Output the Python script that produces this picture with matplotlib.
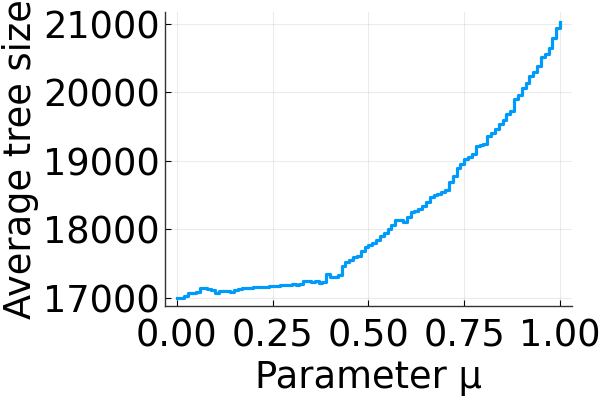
import numpy as np
import matplotlib.pyplot as plt

# parameter grid (mu from 0 to 1, step 0.01)
mu = np.linspace(0, 1, 101)

# average tree size, one value per mu step
tree_size = [
    16995, 16995, 17030, 17075, 17075, 17080, 17150, 17145, 17125, 17120,
    17070, 17105, 17105, 17100, 17090, 17120, 17135, 17140, 17145, 17150,
    17155, 17160, 17165, 17165, 17170, 17175, 17180, 17185, 17190, 17195,
    17200, 17195, 17210, 17245, 17240, 17235, 17245, 17220, 17230, 17350,
    17300, 17310, 17330, 17460, 17525, 17560, 17590, 17610, 17690, 17745,
    17770, 17800, 17840, 17910, 17940, 18010, 18060, 18140, 18130, 18110,
    18180, 18250, 18270, 18300, 18340, 18400, 18470, 18500, 18520, 18550,
    18570, 18690, 18780, 18900, 18960, 19030, 19060, 19100, 19220, 19235,
    19245, 19365, 19400, 19460, 19530, 19600, 19680, 19720, 19900, 19960,
    20060, 20130, 20235, 20300, 20380, 20520, 20560, 20650, 20790, 20930,
    21030,
]

xticks = [0.0, 0.25, 0.5, 0.75, 1.0]
xticklabels = ["0.00", "0.25", "0.50", "0.75", "1.00"]
yticks = [17000, 18000, 19000, 20000, 21000]

fs = 26.5

fig = plt.figure(figsize=(6, 4), dpi=100)
ax = fig.add_axes([165 / 600, 1 - 306 / 400, (572 - 165) / 600, (306 - 12) / 400])

ax.plot(mu, tree_size, color="#009AFA", lw=2.3, drawstyle="steps-post")

ax.set_xlim(-0.0305, 1.031)
ax.set_ylim(16882, 21170)
ax.set_xticks(xticks)
ax.set_xticklabels(xticklabels)
ax.set_yticks(yticks)

ax.grid(True, color="black", alpha=0.08, lw=0.8)
ax.set_axisbelow(True)
for s in ["top", "right"]:
    ax.spines[s].set_visible(False)
for s in ["left", "bottom"]:
    ax.spines[s].set_color("#333333")
    ax.spines[s].set_linewidth(1.0)

ax.tick_params(direction="in", length=4, width=0.8, labelsize=fs)
ax.tick_params(axis="x", pad=8.5)
ax.tick_params(axis="y", pad=3.5)
ax.set_xlabel("Parameter μ", fontsize=fs, labelpad=3)
ax.set_ylabel("Average tree size", fontsize=fs, labelpad=3)

fig.savefig("out.png", dpi=100)
